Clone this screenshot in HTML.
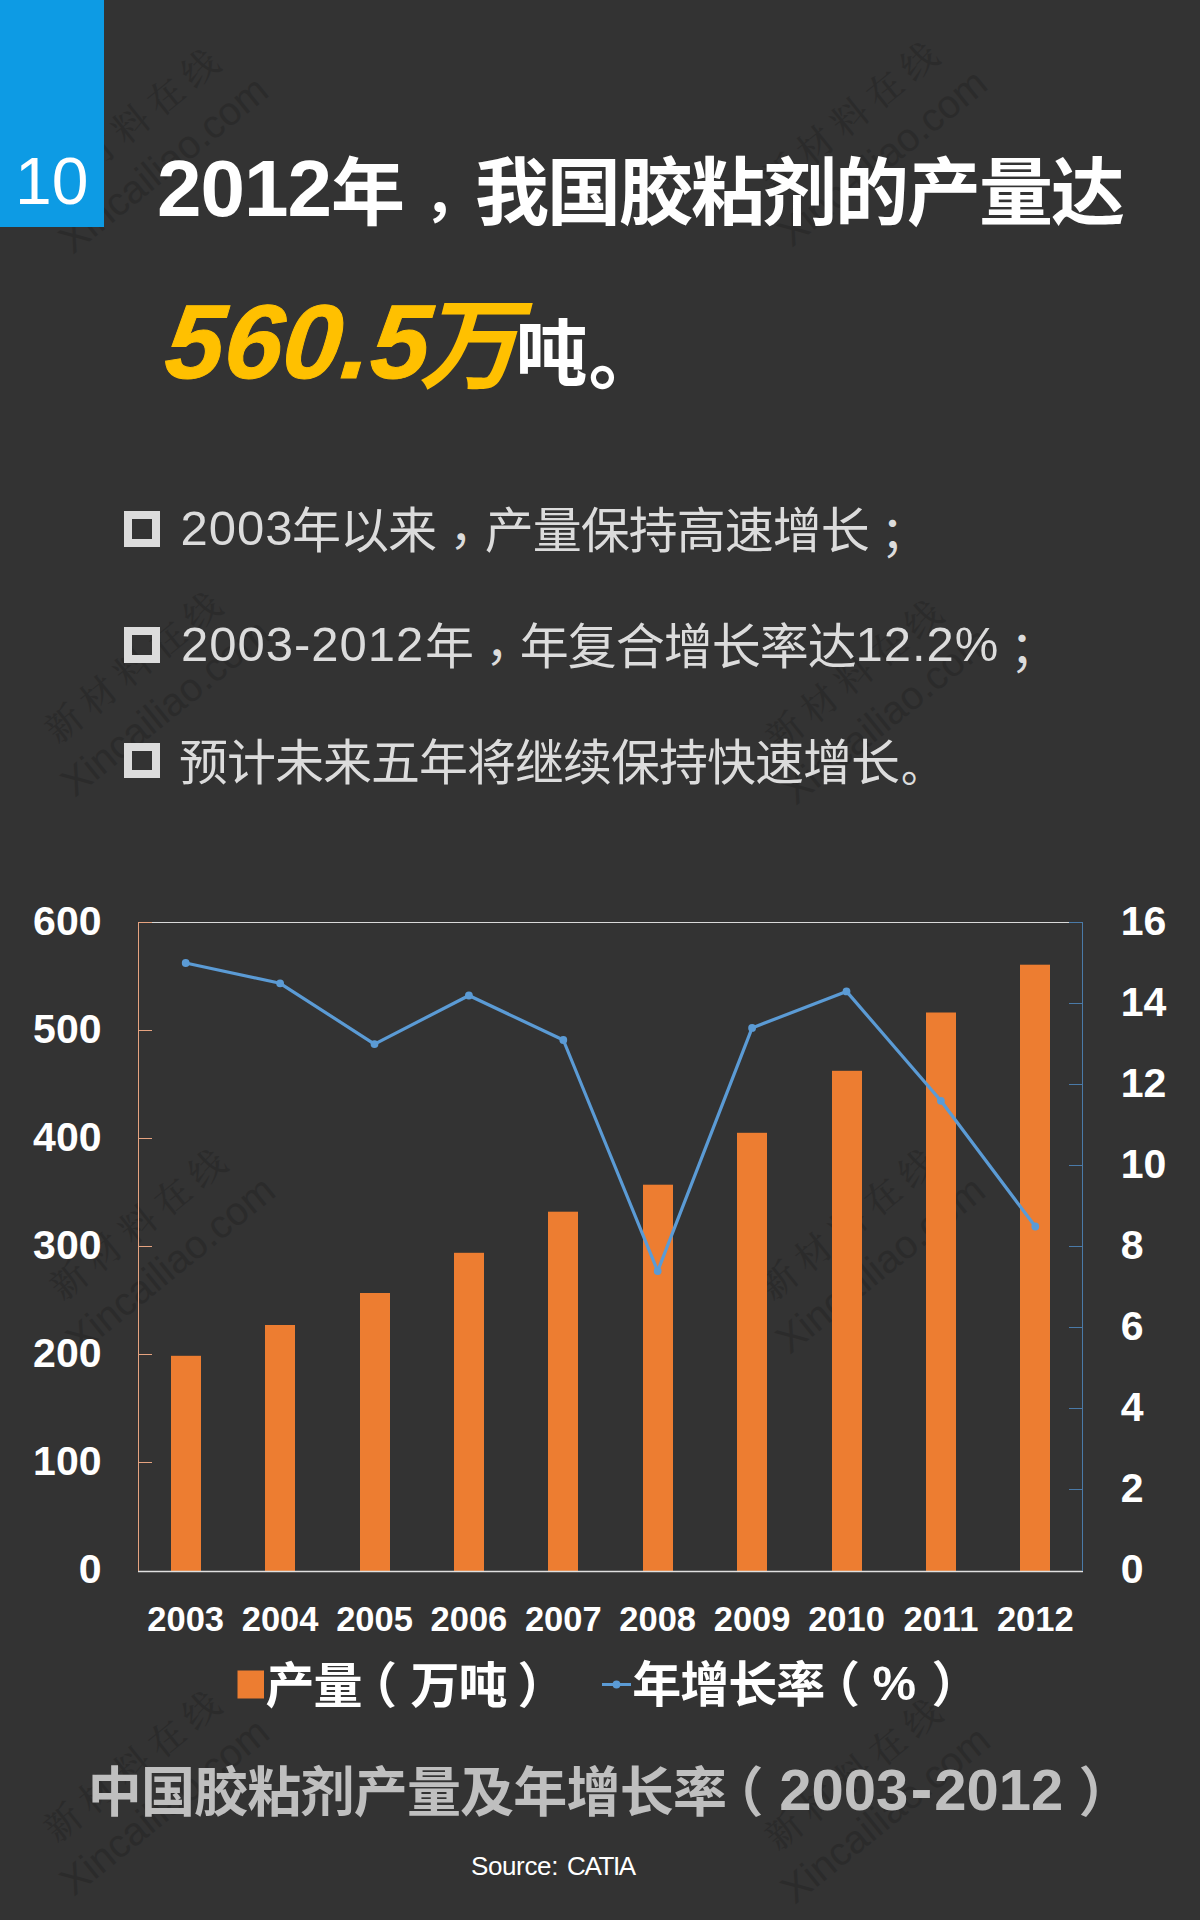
<!DOCTYPE html>
<html lang="zh-CN"><head><meta charset="utf-8"><title>2012年，我国胶粘剂的产量达560.5万吨</title>
<style>
html,body{margin:0;padding:0;}
body{width:1200px;height:1920px;background:#333333;position:relative;overflow:hidden;font-family:"Liberation Sans","Noto Sans CJK SC",sans-serif;color:#fff;}
.abs{position:absolute;white-space:nowrap;line-height:1;}
.blue{position:absolute;left:0;top:0;width:104px;height:226.5px;background:#0d9be4;}
.sq{position:absolute;left:123.5px;width:20px;height:19.5px;border:8px solid #dcdcdc;}
h1,ul,li{margin:0;padding:0;font:inherit;list-style:none;}
svg{position:absolute;left:0;top:0;}
svg text{font-family:"Liberation Sans","Noto Sans CJK SC",sans-serif;fill:#fff;font-weight:700;}
.ax{font-size:41px;}
.yr{font-size:34.5px;}
.wm{position:absolute;width:400px;height:100px;transform:rotate(-39deg);transform-origin:50% 50%;color:#2b2b2b;text-align:center;white-space:nowrap;line-height:1;}
.wm .w1{font-family:"Liberation Serif","Noto Serif CJK SC",serif;font-size:36px;height:30px;line-height:30px;margin-top:12px;word-spacing:-0.5px;font-weight:500;}
.wm .w2{font-size:39.5px;height:40px;line-height:40px;margin-top:15px;}
</style></head><body>
<div class="wm" style="left:-53.8px;top:92.9px"><div class="w1">新 材 料 在 线</div><div class="w2">Xincailiao.com</div></div>
<div class="wm" style="left:664.5px;top:85.9px"><div class="w1">新 材 料 在 线</div><div class="w2">Xincailiao.com</div></div>
<div class="wm" style="left:-52.5px;top:635.9px"><div class="w1">新 材 料 在 线</div><div class="w2">Xincailiao.com</div></div>
<div class="wm" style="left:668.5px;top:643.9px"><div class="w1">新 材 料 在 线</div><div class="w2">Xincailiao.com</div></div>
<div class="wm" style="left:-47.5px;top:1192.9px"><div class="w1">新 材 料 在 线</div><div class="w2">Xincailiao.com</div></div>
<div class="wm" style="left:662.5px;top:1192.9px"><div class="w1">新 材 料 在 线</div><div class="w2">Xincailiao.com</div></div>
<div class="wm" style="left:-52.9px;top:1735.4px"><div class="w1">新 材 料 在 线</div><div class="w2">Xincailiao.com</div></div>
<div class="wm" style="left:668.0px;top:1742.9px"><div class="w1">新 材 料 在 线</div><div class="w2">Xincailiao.com</div></div>
<div class="blue"></div>
<div class="ln"><span class="abs" style="left:15px;top:148px;font-size:66px;font-weight:400;letter-spacing:0px;">10</span></div>
<h1 class="ln"><span class="abs" style="left:157px;top:149px;font-size:80px;font-weight:700;letter-spacing:-1px;">2012</span><span class="abs" style="left:331px;top:156.5px;font-size:74px;font-weight:700;letter-spacing:-2px;">年</span><span class="abs" style="left:424px;top:168px;font-size:56px;font-weight:700;">，</span><span class="abs" style="left:475px;top:156.5px;font-size:74px;font-weight:700;letter-spacing:-2px;">我国胶粘剂的产量达</span><br><span class="abs" style="left:161px;top:289px;font-size:105px;font-weight:700;font-style:italic;color:#ffc000;letter-spacing:0.3px;transform:skewX(-6deg);transform-origin:0 100%;-webkit-text-stroke:1px #ffc000;">560.5</span><span class="abs" style="left:419px;top:296px;font-size:100px;font-weight:700;font-style:italic;color:#ffc000;">万</span><span class="abs" style="left:515.5px;top:317.5px;font-size:72px;font-weight:700;">吨</span><span class="abs" style="left:588.5px;top:322px;font-size:72px;font-weight:700;">。</span></h1>
<ul class="ln">
<li><i class="sq" style="top:511px"></i><span class="abs" style="left:180.5px;top:504px;color:#dcdcdc;font-weight:400;font-size:49px;letter-spacing:1px;">2003</span><span class="abs" style="left:292px;top:507px;color:#dcdcdc;font-weight:400;font-size:49px;letter-spacing:-1px;">年以来</span><span class="abs" style="left:449.3px;top:504px;color:#dcdcdc;font-weight:400;font-size:48px;">，</span><span class="abs" style="left:484.7px;top:507px;color:#dcdcdc;font-weight:400;font-size:49px;letter-spacing:-1px;">产量保持高速增长</span><span class="abs" style="left:880.5px;top:509.5px;color:#dcdcdc;font-weight:400;font-size:48px;">；</span></li>
<li><i class="sq" style="top:627px"></i><span class="abs" style="left:181px;top:619.8px;color:#dcdcdc;font-weight:400;font-size:49px;letter-spacing:1px;">2003-2012</span><span class="abs" style="left:425px;top:623px;color:#dcdcdc;font-weight:400;font-size:49px;letter-spacing:-1px;">年</span><span class="abs" style="left:485.3px;top:620px;color:#dcdcdc;font-weight:400;font-size:48px;">，</span><span class="abs" style="left:519.7px;top:623px;color:#dcdcdc;font-weight:400;font-size:49px;letter-spacing:-1px;">年复合增长率达</span><span class="abs" style="left:855.5px;top:619.8px;color:#dcdcdc;font-weight:400;font-size:49px;letter-spacing:1px;">12.2%</span><span class="abs" style="left:1010px;top:625.2px;color:#dcdcdc;font-weight:400;font-size:48px;">；</span></li>
<li><i class="sq" style="top:742.5px"></i><span class="abs" style="left:179px;top:739px;color:#dcdcdc;font-weight:400;font-size:49px;letter-spacing:-1px;">预计未来五年将继续保持快速增长</span><span class="abs" style="left:901px;top:746.8px;color:#dcdcdc;font-weight:400;font-size:42px;">。</span></li>
</ul>
<svg width="1200" height="1920" viewBox="0 0 1200 1920">
<rect x="171" y="1355.8" width="30" height="215.2" fill="#ed7d31"/>
<rect x="265" y="1325.0" width="30" height="246.0" fill="#ed7d31"/>
<rect x="360" y="1293.0" width="30" height="278.0" fill="#ed7d31"/>
<rect x="454" y="1252.8" width="30" height="318.2" fill="#ed7d31"/>
<rect x="548" y="1211.7" width="30" height="359.3" fill="#ed7d31"/>
<rect x="643" y="1184.7" width="30" height="386.3" fill="#ed7d31"/>
<rect x="737" y="1132.8" width="30" height="438.2" fill="#ed7d31"/>
<rect x="832" y="1070.8" width="30" height="500.2" fill="#ed7d31"/>
<rect x="926" y="1012.5" width="30" height="558.5" fill="#ed7d31"/>
<rect x="1020" y="964.7" width="30" height="606.3" fill="#ed7d31"/>
<line x1="151.5" y1="922.5" x2="1070" y2="922.5" stroke="#d9d9d9" stroke-width="1"/>
<line x1="138.0" y1="1571.5" x2="1083.0" y2="1571.5" stroke="#e0e0e0" stroke-width="1.3"/>
<line x1="138.5" y1="922.0" x2="138.5" y2="1571.0" stroke="#e6a380" stroke-width="1"/>
<line x1="1082.5" y1="922.0" x2="1082.5" y2="1571.0" stroke="#4a7aa8" stroke-width="1"/>
<text class="ax" x="101.5" y="1583.3" text-anchor="end">0</text>
<line x1="138.5" y1="1462.5" x2="152.0" y2="1462.5" stroke="#e6a380" stroke-width="1"/>
<text class="ax" x="101.5" y="1475.3" text-anchor="end">100</text>
<line x1="138.5" y1="1354.5" x2="152.0" y2="1354.5" stroke="#e6a380" stroke-width="1"/>
<text class="ax" x="101.5" y="1367.3" text-anchor="end">200</text>
<line x1="138.5" y1="1246.5" x2="152.0" y2="1246.5" stroke="#e6a380" stroke-width="1"/>
<text class="ax" x="101.5" y="1259.3" text-anchor="end">300</text>
<line x1="138.5" y1="1138.5" x2="152.0" y2="1138.5" stroke="#e6a380" stroke-width="1"/>
<text class="ax" x="101.5" y="1151.3" text-anchor="end">400</text>
<line x1="138.5" y1="1030.5" x2="152.0" y2="1030.5" stroke="#e6a380" stroke-width="1"/>
<text class="ax" x="101.5" y="1043.3" text-anchor="end">500</text>
<line x1="138.5" y1="922.5" x2="152.0" y2="922.5" stroke="#e6a380" stroke-width="1"/>
<text class="ax" x="101.5" y="935.3" text-anchor="end">600</text>
<text class="ax" x="1120.8" y="1583.3" text-anchor="start">0</text>
<line x1="1069.0" y1="1489.5" x2="1082.5" y2="1489.5" stroke="#4a7aa8" stroke-width="1"/>
<text class="ax" x="1120.8" y="1502.3" text-anchor="start">2</text>
<line x1="1069.0" y1="1408.5" x2="1082.5" y2="1408.5" stroke="#4a7aa8" stroke-width="1"/>
<text class="ax" x="1120.8" y="1421.3" text-anchor="start">4</text>
<line x1="1069.0" y1="1327.5" x2="1082.5" y2="1327.5" stroke="#4a7aa8" stroke-width="1"/>
<text class="ax" x="1120.8" y="1340.3" text-anchor="start">6</text>
<line x1="1069.0" y1="1246.5" x2="1082.5" y2="1246.5" stroke="#4a7aa8" stroke-width="1"/>
<text class="ax" x="1120.8" y="1259.3" text-anchor="start">8</text>
<line x1="1069.0" y1="1165.5" x2="1082.5" y2="1165.5" stroke="#4a7aa8" stroke-width="1"/>
<text class="ax" x="1120.8" y="1178.3" text-anchor="start">10</text>
<line x1="1069.0" y1="1084.5" x2="1082.5" y2="1084.5" stroke="#4a7aa8" stroke-width="1"/>
<text class="ax" x="1120.8" y="1097.3" text-anchor="start">12</text>
<line x1="1069.0" y1="1003.5" x2="1082.5" y2="1003.5" stroke="#4a7aa8" stroke-width="1"/>
<text class="ax" x="1120.8" y="1016.3" text-anchor="start">14</text>
<line x1="1069.0" y1="922.5" x2="1082.5" y2="922.5" stroke="#4a7aa8" stroke-width="1"/>
<text class="ax" x="1120.8" y="935.3" text-anchor="start">16</text>
<polyline fill="none" stroke="#5b9bd5" stroke-width="3.2" stroke-linejoin="round" points="185.7,963.0 280.1,983.3 374.5,1044.1 468.9,995.5 563.3,1040.0 657.7,1271.1 752.1,1027.9 846.5,991.4 940.9,1100.8 1035.3,1226.5"/>
<circle cx="185.7" cy="963.0" r="3.9" fill="#5b9bd5"/>
<circle cx="280.1" cy="983.3" r="3.9" fill="#5b9bd5"/>
<circle cx="374.5" cy="1044.1" r="3.9" fill="#5b9bd5"/>
<circle cx="468.9" cy="995.5" r="3.9" fill="#5b9bd5"/>
<circle cx="563.3" cy="1040.0" r="3.9" fill="#5b9bd5"/>
<circle cx="657.7" cy="1271.1" r="3.9" fill="#5b9bd5"/>
<circle cx="752.1" cy="1027.9" r="3.9" fill="#5b9bd5"/>
<circle cx="846.5" cy="991.4" r="3.9" fill="#5b9bd5"/>
<circle cx="940.9" cy="1100.8" r="3.9" fill="#5b9bd5"/>
<circle cx="1035.3" cy="1226.5" r="3.9" fill="#5b9bd5"/>
<text class="yr" x="185.7" y="1631" text-anchor="middle">2003</text>
<text class="yr" x="280.1" y="1631" text-anchor="middle">2004</text>
<text class="yr" x="374.5" y="1631" text-anchor="middle">2005</text>
<text class="yr" x="468.9" y="1631" text-anchor="middle">2006</text>
<text class="yr" x="563.3" y="1631" text-anchor="middle">2007</text>
<text class="yr" x="657.7" y="1631" text-anchor="middle">2008</text>
<text class="yr" x="752.1" y="1631" text-anchor="middle">2009</text>
<text class="yr" x="846.5" y="1631" text-anchor="middle">2010</text>
<text class="yr" x="940.9" y="1631" text-anchor="middle">2011</text>
<text class="yr" x="1035.3" y="1631" text-anchor="middle">2012</text>
<rect x="237.5" y="1670.5" width="26.5" height="28" fill="#ed7d31"/>
<line x1="602" y1="1684.5" x2="631" y2="1684.5" stroke="#5b9bd5" stroke-width="3"/>
<circle cx="616.5" cy="1684.5" r="3.9" fill="#5b9bd5"/>
</svg>
<div class="ln"><span class="abs" style="left:265.6px;top:1661.5px;font-size:49px;font-weight:700;letter-spacing:-1px;">产量</span><span class="abs" style="left:348px;top:1661.5px;font-size:49px;font-weight:700;letter-spacing:-1px;">（</span><span class="abs" style="left:410.5px;top:1661.5px;font-size:49px;font-weight:700;letter-spacing:-1px;">万吨</span><span class="abs" style="left:517.5px;top:1661.5px;font-size:49px;font-weight:700;letter-spacing:-1px;">）</span></div>
<div class="ln"><span class="abs" style="left:632.3px;top:1660.5px;font-size:49px;font-weight:700;letter-spacing:-1px;">年增长率</span><span class="abs" style="left:811px;top:1660.5px;font-size:49px;font-weight:700;letter-spacing:-1px;">（</span><span class="abs" style="left:872.4px;top:1658.8px;font-size:49px;font-weight:700;">%</span><span class="abs" style="left:931.6px;top:1660.5px;font-size:49px;font-weight:700;letter-spacing:-1px;">）</span></div>
<div class="ln"><span class="abs" style="left:87.7px;top:1766px;color:#bfbfbf;font-weight:700;font-size:54px;letter-spacing:-0.8px;">中国胶粘剂产量及年增长率</span><span class="abs" style="left:709.5px;top:1766px;color:#bfbfbf;font-weight:700;font-size:54px;">（</span><span class="abs" style="left:779.2px;top:1761.2px;color:#bfbfbf;font-weight:700;font-size:58px;">2003</span><span class="abs" style="left:910.5px;top:1755px;color:#bfbfbf;font-weight:700;font-size:66px;">-</span><span class="abs" style="left:934.3px;top:1761.2px;color:#bfbfbf;font-weight:700;font-size:58px;">2012</span><span class="abs" style="left:1078.5px;top:1766px;color:#bfbfbf;font-weight:700;font-size:54px;">）</span></div>
<div class="ln"><span class="abs" style="left:470.9px;top:1852.6px;font-size:26px;font-weight:400;letter-spacing:-0.35px;">Source: </span><span class="abs" style="left:567.1px;top:1852.6px;font-size:26px;font-weight:400;letter-spacing:-1.4px;">CATIA</span></div>
</body></html>
